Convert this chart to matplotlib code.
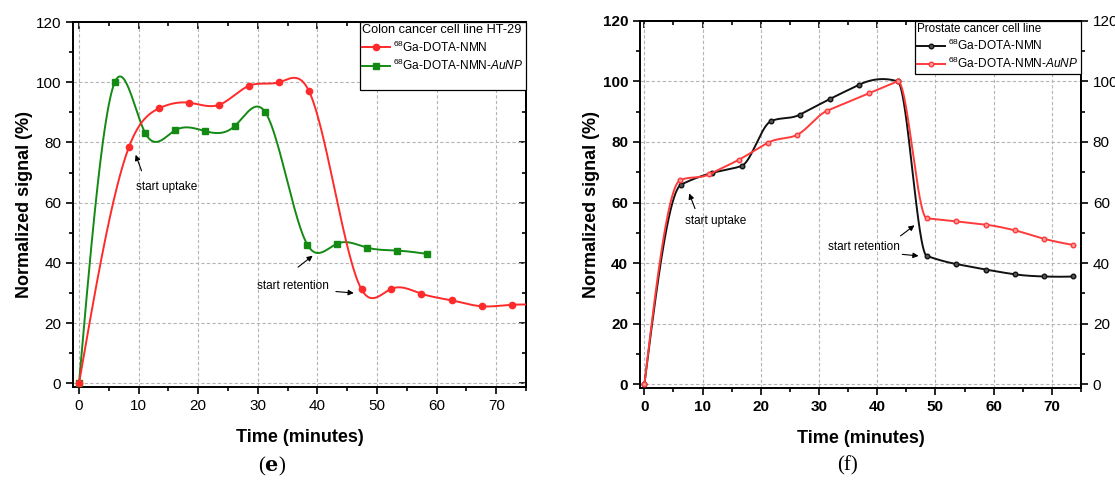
import numpy as np
import matplotlib
matplotlib.use("Agg")
import matplotlib.pyplot as plt
from matplotlib.lines import Line2D
from matplotlib.ticker import MultipleLocator

plt.rcParams["font.family"] = ["Liberation Sans", "DejaVu Sans"]
plt.rcParams["mathtext.fontset"] = "custom"
plt.rcParams["mathtext.rm"] = "Liberation Sans"
plt.rcParams["mathtext.it"] = "Liberation Sans:italic"
plt.rcParams["mathtext.bf"] = "Liberation Sans:bold"

# ---- panel (e): colon cancer cell line HT-29 ----
e_nmn_t = [0, 8.4, 13.4, 18.5, 23.5, 28.5, 33.6, 38.6, 47.4, 52.4, 57.4, 62.5, 67.6, 72.6, 77.7]
e_nmn_v = [0, 78.6, 91.3, 93.2, 92.5, 98.8, 100.0, 97.0, 31.2, 31.4, 29.8, 27.6, 25.6, 26.1, 26.0]
e_aunp_t = [0, 6.0, 11.1, 16.1, 21.1, 26.1, 31.2, 38.3, 43.3, 48.3, 53.4, 58.4]
e_aunp_v = [0, 100.0, 83.2, 84.0, 83.8, 85.4, 90.2, 46.1, 46.4, 45.1, 44.1, 43.0]

# ---- panel (f): prostate cancer cell line ----
f_nmn_t = [0, 6.3, 11.7, 16.7, 21.7, 26.7, 31.8, 36.8, 43.5, 48.5, 53.6, 58.6, 63.7, 68.7, 73.7]
f_nmn_v = [0, 65.9, 69.8, 72.1, 86.8, 89.0, 94.1, 98.8, 100.0, 42.4, 39.7, 37.9, 36.3, 35.6, 35.6]
f_aunp_t = [0, 6.1, 11.1, 16.3, 21.3, 26.3, 31.4, 38.5, 43.5, 48.5, 53.5, 58.6, 63.7, 68.7, 73.7]
f_aunp_v = [0, 67.3, 69.3, 74.2, 79.8, 82.4, 90.3, 96.0, 100.0, 54.8, 53.8, 52.7, 50.8, 48.0, 46.0]

series_labels = [r"$^{68}$Ga-DOTA-NMN", r"$^{68}$Ga-DOTA-NMN-$\it{AuNP}$"]
x_ticks = [0, 10, 20, 30, 40, 50, 60, 70]
y_ticks = [0, 20, 40, 60, 80, 100, 120]


def natural_spline(x, y, xs):
    x = np.asarray(x, float)
    y = np.asarray(y, float)
    n = len(x)
    h = np.diff(x)
    A = np.zeros((n, n))
    r = np.zeros(n)
    A[0, 0] = A[-1, -1] = 1.0
    for i in range(1, n - 1):
        A[i, i - 1] = h[i - 1]
        A[i, i] = 2 * (h[i - 1] + h[i])
        A[i, i + 1] = h[i]
        r[i] = 3 * ((y[i + 1] - y[i]) / h[i] - (y[i] - y[i - 1]) / h[i - 1])
    c = np.linalg.solve(A, r)
    b = (y[1:] - y[:-1]) / h - h * (2 * c[:-1] + c[1:]) / 3
    d = (c[1:] - c[:-1]) / (3 * h)
    idx = np.clip(np.searchsorted(x, xs) - 1, 0, n - 2)
    dx = xs - x[idx]
    return y[idx] + b[idx] * dx + c[idx] * dx ** 2 + d[idx] * dx ** 3


def akima(x, y, xs):
    x = np.asarray(x, float)
    y = np.asarray(y, float)
    n = len(x)
    h = np.diff(x)
    m = np.diff(y) / h
    mm = np.concatenate([[3 * m[0] - 2 * m[1], 2 * m[0] - m[1]], m,
                         [2 * m[-1] - m[-2], 3 * m[-1] - 2 * m[-2]]])
    t = np.zeros(n)
    for i in range(n):
        w1 = abs(mm[i + 3] - mm[i + 2])
        w2 = abs(mm[i + 1] - mm[i])
        if w1 + w2 == 0:
            t[i] = 0.5 * (mm[i + 1] + mm[i + 2])
        else:
            t[i] = (w1 * mm[i + 1] + w2 * mm[i + 2]) / (w1 + w2)
    idx = np.clip(np.searchsorted(x, xs) - 1, 0, n - 2)
    s = (xs - x[idx]) / h[idx]
    h00 = 2 * s ** 3 - 3 * s ** 2 + 1
    h10 = s ** 3 - 2 * s ** 2 + s
    h01 = -2 * s ** 3 + 3 * s ** 2
    h11 = s ** 3 - s ** 2
    return (h00 * y[idx] + h10 * h[idx] * t[idx] + h01 * y[idx + 1]
            + h11 * h[idx] * t[idx + 1])


def smooth(t, v, fn):
    xs = np.linspace(t[0], t[-1], 800)
    return xs, fn(t, v, xs)


def style_axes(ax, xlim, bold_ticks, right_labels):
    ax.set_xlim(*xlim)
    ax.set_ylim(-1.2, 120)
    ax.set_xticks(x_ticks)
    ax.set_yticks(y_ticks)
    ax.xaxis.set_minor_locator(MultipleLocator(5))
    ax.yaxis.set_minor_locator(MultipleLocator(10))
    ax.grid(True, which="major", color="#b5b5b5", linestyle=(0, (3, 2)), lw=0.8)
    ax.set_axisbelow(True)
    for sp in ax.spines.values():
        sp.set_linewidth(1.4)
    ax.tick_params(which="both", direction="out", top=False, right=False,
                   width=1.2, labelsize=11)
    ax.tick_params(which="major", length=5)
    ax.tick_params(which="minor", length=3)
    if bold_ticks:
        for lab in ax.get_xticklabels() + ax.get_yticklabels():
            lab.set_fontweight("bold")
    tx = ax.secondary_xaxis("top")
    tx.set_xticks(x_ticks)
    tx.xaxis.set_minor_locator(MultipleLocator(5))
    tx.tick_params(which="both", direction="in", labeltop=False, width=1.2)
    tx.tick_params(which="major", length=5)
    tx.tick_params(which="minor", length=3)
    ty = ax.secondary_yaxis("right")
    ty.set_yticks(y_ticks)
    ty.yaxis.set_minor_locator(MultipleLocator(10))
    if right_labels:
        ty.tick_params(which="both", direction="out", width=1.2, labelsize=11)
    else:
        ty.tick_params(which="both", direction="in", labelright=False, width=1.2)
    ty.tick_params(which="major", length=5)
    ty.tick_params(which="minor", length=3)
    for sp in list(tx.spines.values()) + list(ty.spines.values()):
        sp.set_linewidth(1.4)
    ax.set_xlabel("Time (minutes)", fontsize=13, fontweight="bold", labelpad=12)
    ax.set_ylabel("Normalized signal (%)", fontsize=13, fontweight="bold", labelpad=2)


def arrow(ax, tail, tip):
    ax.annotate("", xy=tip, xytext=tail,
                arrowprops=dict(arrowstyle="-|>", color="black", lw=0.8,
                                mutation_scale=8, shrinkA=0, shrinkB=0))


def add_legend(ax, handles, labels, title, title_size):
    leg = ax.legend(handles, labels,
                    title=title, loc="upper right", bbox_to_anchor=(1.0, 1.0),
                    borderaxespad=0, fontsize=8.6, title_fontsize=title_size,
                    frameon=True, fancybox=False, edgecolor="black",
                    framealpha=1, handlelength=2.35, handletextpad=0.25,
                    borderpad=0.2, labelspacing=0.25, alignment="left")
    leg.get_frame().set_linewidth(0.9)
    leg.set_zorder(10)
    return leg


fig = plt.figure(figsize=(11.15, 4.86), dpi=100)
ax1 = fig.add_axes([0.0655, 0.2037, 0.4063, 0.751])
ax2 = fig.add_axes([0.574, 0.2016, 0.3955, 0.7558])

red1 = "#ff2a2a"
green1 = "#138a13"

xs, ys = smooth(e_aunp_t, e_aunp_v, natural_spline)
ax1.plot(xs, ys, color=green1, lw=1.4, zorder=3)
ax1.plot(e_aunp_t, e_aunp_v, "s", color=green1, ms=4, zorder=4)
xs, ys = smooth(e_nmn_t, e_nmn_v, natural_spline)
ax1.plot(xs, ys, color=red1, lw=1.4, zorder=5)
ax1.plot(e_nmn_t, e_nmn_v, "o", color=red1, ms=4.5, zorder=6)

h_red = Line2D([], [], marker="o", color=red1, lw=1.4, ms=4.5)
h_grn = Line2D([], [], marker="s", color=green1, lw=1.4, ms=4)
h_gap = Line2D([], [], alpha=0)  # blank row at the foot of the legend box

style_axes(ax1, (-1, 75), bold_ticks=False, right_labels=False)
add_legend(ax1, [h_red, h_grn, h_gap], series_labels + [" "],
           "Colon cancer cell line HT-29", 9.2)

ax1.text(9.5, 65.3, "start uptake", fontsize=8.5, va="center", ha="left")
arrow(ax1, (10.5, 70.6), (9.5, 75.9))
ax1.text(29.9, 32.3, "start retention", fontsize=8.5, va="center", ha="left")
arrow(ax1, (36.75, 38.6), (39.2, 42.4))
arrow(ax1, (43.1, 30.5), (46.1, 30.0))

black2 = "#111111"
red2 = "#ff3a3a"

xs, ys = smooth(f_nmn_t, f_nmn_v, akima)
ax2.plot(xs, ys, color=black2, lw=1.4, zorder=3)
ax2.plot(f_nmn_t, f_nmn_v, "o", color=black2, ms=3.3, mfc="#555555",
         mec=black2, zorder=4)
xs, ys = smooth(f_aunp_t, f_aunp_v, akima)
ax2.plot(xs, ys, color=red2, lw=1.4, zorder=5)
ax2.plot(f_aunp_t, f_aunp_v, "o", color=red2, ms=3.3, mfc="#ff9a9a",
         mec=red2, zorder=6)

h_blk = Line2D([], [], marker="o", color=black2, lw=1.4, ms=3.3, mfc="#555555")
h_red2 = Line2D([], [], marker="o", color=red2, lw=1.4, ms=3.3, mfc="#ff9a9a")

style_axes(ax2, (-0.75, 75), bold_ticks=True, right_labels=True)
add_legend(ax2, [h_blk, h_red2], series_labels, "Prostate cancer cell line", 8.4)

ax2.text(7.0, 53.9, "start uptake", fontsize=8.5, va="center", ha="left")
arrow(ax2, (8.7, 58.0), (7.7, 63.0))
ax2.text(31.6, 45.3, "start retention", fontsize=8.5, va="center", ha="left")
arrow(ax2, (44.0, 49.0), (46.4, 52.5))
arrow(ax2, (44.3, 42.9), (47.1, 42.4))

fig.text(272 / 1115, 1 - 466 / 486, r"($\mathbf{e}$)", fontsize=15,
         family="Liberation Serif", math_fontfamily="dejavuserif",
         ha="center", va="center")
fig.text(848 / 1115, 1 - 466 / 486, "(f)", fontsize=15, family="Liberation Serif",
         ha="center", va="center")

fig.savefig("out.png", dpi=100)
